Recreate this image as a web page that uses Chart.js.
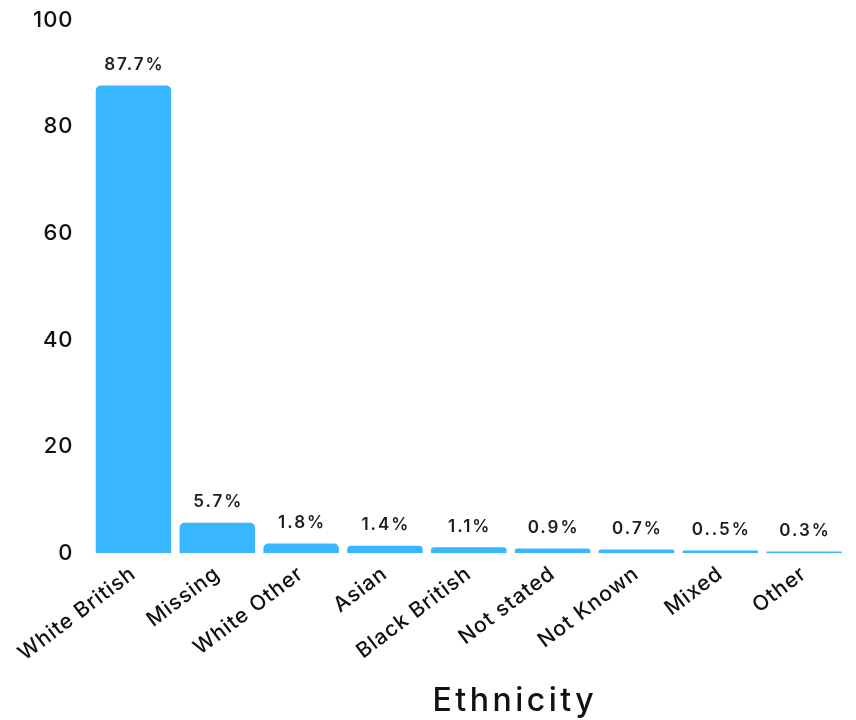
<!DOCTYPE html>
<html>
<head>
<meta charset="utf-8">
<style>
  html, body { margin: 0; padding: 0; background: #ffffff; }
  #wrap { width: 856px; height: 720px; }
</style>
<script src="https://cdn.jsdelivr.net/npm/chart.js@4/dist/chart.umd.min.js"></script>
</head>
<body>
<div id="wrap"><canvas id="chart" width="856" height="720"></canvas></div>
<script>
// Ethnicity breakdown (percent of records)
const categories = ['White British', 'Missing', 'White Other', 'Asian', 'Black British', 'Not stated', 'Not Known', 'Mixed', 'Other'];
const percentages = [87.7, 5.7, 1.8, 1.4, 1.1, 0.9, 0.7, 0.5, 0.3];
const valueLabels = ['87.7%', '5.7%', '1.8%', '1.4%', '1.1%', '0.9%', '0.7%', '0..5%', '0.3%'];
const yTicks = [0, 20, 40, 60, 80, 100];
const axisTitle = 'Ethnicity';

const FONT = 'Inter, "Open Sans", sans-serif';
const BAR_COLOR = '#38b6ff';

// Slightly wider letter spacing for all canvas text
const spacingPlugin = {
  id: 'spacing',
  beforeInit(chart) { chart.ctx.letterSpacing = '1px'; },
  beforeLayout(chart) { chart.ctx.letterSpacing = '1px'; },
  beforeDraw(chart) { chart.ctx.letterSpacing = '1px'; }
};

// Percentage text above each bar
const valueLabelPlugin = {
  id: 'valueLabels',
  afterDatasetsDraw(chart) {
    const ctx = chart.ctx;
    const meta = chart.getDatasetMeta(0);
    ctx.save();
    ctx.letterSpacing = '2px';
    ctx.font = '600 17px ' + FONT;
    ctx.fillStyle = '#1e1e1e';
    ctx.textAlign = 'center';
    ctx.textBaseline = 'bottom';
    meta.data.forEach((bar, i) => {
      ctx.fillText(valueLabels[i], bar.x + 1, bar.y - 12);
    });
    ctx.restore();
  }
};

// Axis title, drawn beneath the rotated category labels
const axisTitlePlugin = {
  id: 'axisTitle',
  afterDraw(chart) {
    const ctx = chart.ctx;
    const xs = chart.scales.x;
    ctx.save();
    ctx.letterSpacing = '3.5px';
    ctx.font = '500 32px ' + FONT;
    ctx.fillStyle = '#111111';
    ctx.textAlign = 'center';
    ctx.textBaseline = 'alphabetic';
    const cx = xs.getPixelForValue(4.55);
    ctx.fillText(axisTitle, cx, chart.height - 9);
    ctx.restore();
  }
};

new Chart(document.getElementById('chart'), {
  type: 'bar',
  data: {
    labels: categories,
    datasets: [{
      data: percentages,
      backgroundColor: BAR_COLOR,
      borderRadius: { topLeft: 5, topRight: 5, bottomLeft: 0, bottomRight: 0 },
      borderSkipped: 'start',
      barPercentage: 0.9,
      categoryPercentage: 1.0
    }]
  },
  options: {
    responsive: false,
    animation: false,
    devicePixelRatio: 1,
    layout: { padding: { top: 0, right: 10, left: 15, bottom: 46 } },
    plugins: {
      legend: { display: false },
      tooltip: { enabled: false }
    },
    scales: {
      x: {
        grid: { display: false, drawTicks: false },
        border: { display: false },
        ticks: {
          color: '#111111',
          font: { family: FONT, size: 21, weight: 500 },
          maxRotation: 37,
          minRotation: 37,
          padding: 8,
          autoSkip: false
        }
      },
      y: {
        min: 0,
        max: 100,
        grid: { display: false, drawTicks: false },
        border: { display: false },
        afterBuildTicks(scale) {
          scale.ticks = yTicks.map(v => ({ value: v }));
        },
        // keep the top of the plot close to the canvas edge
        afterFit(scale) {
          scale.paddingTop = 20;
        },
        ticks: {
          color: '#111111',
          font: { family: FONT, size: 22, weight: 500 },
          padding: 18
        }
      }
    }
  },
  plugins: [spacingPlugin, valueLabelPlugin, axisTitlePlugin]
});
</script>
</body>
</html>
